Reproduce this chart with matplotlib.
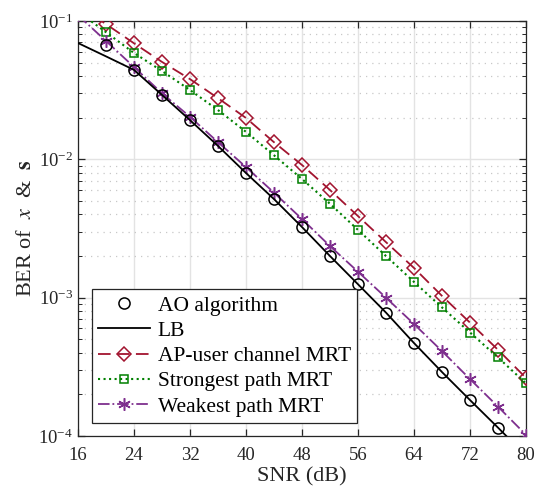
import matplotlib
matplotlib.use("Agg")
import matplotlib.pyplot as plt
from matplotlib.ticker import LogLocator, FixedLocator, NullFormatter

plt.rcParams['font.family'] = ['Liberation Serif', 'DejaVu Serif']
plt.rcParams['mathtext.fontset'] = 'stix'

# SNR grid (dB) and BER curves
snr = [16, 20, 24, 28, 32, 36, 40, 44, 48, 52, 56, 60, 64, 68, 72, 76, 80]
ber_ao = [None, 0.067, 0.0443, 0.0292, 0.0192, 0.0125, 0.00796, 0.00516, 0.00324,
          0.00200, 0.00125, 0.00078, 0.00047, 0.00029, 0.000182, 0.000115, 7.2e-5]
ber_lb = [0.0693, 0.0555, 0.0443, 0.0292, 0.0192, 0.0125, 0.00796, 0.00516, 0.00324,
          0.00200, 0.00125, 0.00078, 0.00047, 0.00029, 0.000182, 0.000115, 7.2e-5]
ber_ap = [0.13, 0.095, 0.069, 0.0506, 0.038, 0.0277, 0.0199, 0.0133, 0.0091,
          0.0060, 0.00389, 0.00252, 0.00164, 0.00103, 0.00066, 0.00042, 0.000263]
ber_strong = [0.117, 0.083, 0.0587, 0.0435, 0.0317, 0.0227, 0.0158, 0.0107, 0.00721,
              0.00477, 0.00309, 0.00200, 0.00130, 0.00085, 0.00056, 0.00037, 0.00024]
ber_weak = [0.11, 0.0717, 0.0465, 0.030, 0.0203, 0.0133, 0.00879, 0.00574, 0.0037,
            0.00236, 0.00154, 0.00100, 0.000645, 0.000411, 0.000258, 0.000163, 0.000102]

red = '#A2142F'
green = '#008000'
purple = '#7E2F8E'

fig = plt.figure(figsize=(5.36, 4.87), dpi=100)
ax = fig.add_axes([0.1455, 0.1047, 0.8358, 0.8522])

ao_x = [s for s, b in zip(snr, ber_ao) if b is not None]
ao_y = [b for b in ber_ao if b is not None]
ax.plot(ao_x, ao_y, 'o', color='black', mfc='none', ms=8, mew=1.1,
        label='AO algorithm', zorder=5)
ax.plot(snr, ber_lb, '-', color='black', lw=1.3, label='LB', zorder=4)
ax.plot(snr, ber_ap, '--', color=red, marker='D', mfc='none', ms=7.5, mew=1.1,
        lw=1.3, dashes=(7, 3.5), label='AP-user channel MRT', zorder=3)
ax.plot(snr, ber_strong, ':', color=green, marker='s', mfc='none', ms=6, mew=1.1,
        lw=1.5, label='Strongest path MRT', zorder=3)
ax.plot(snr, ber_weak, '-.', color=purple, marker=(6, 2, 0), ms=9, mew=1.1,
        lw=1.3, label='Weakest path MRT', zorder=3)

ax.set_yscale('log')
ax.set_xlim(16, 80)
ax.set_ylim(1e-4, 1e-1)
ax.xaxis.set_major_locator(FixedLocator(list(range(16, 81, 8))))
ax.yaxis.set_major_locator(LogLocator(base=10, numticks=10))
ax.yaxis.set_minor_locator(LogLocator(base=10, subs=range(2, 10), numticks=20))
ax.yaxis.set_minor_formatter(NullFormatter())

ax.grid(True, which='major', color='#e3e3e3', lw=1.0, ls='-')
ax.grid(True, which='minor', axis='y', color='#c8c8c8', lw=0.9, ls=(0, (1, 4)))
ax.set_axisbelow(True)

ax.tick_params(which='both', direction='in', top=True, right=True,
               colors='#262626', labelcolor='#262626', labelsize=13.5)
ax.tick_params(which='major', length=5, width=0.9)
ax.tick_params(which='minor', length=3, width=0.7)
ax.tick_params(axis='x', pad=8)
for sp in ax.spines.values():
    sp.set_color('#262626')
    sp.set_linewidth(0.9)

ax.set_xlabel('SNR (dB)', fontsize=16, color='#262626', labelpad=2)
ax.set_ylabel(r'BER of  $x$  &  $\mathbf{s}$', fontsize=16, color='#262626', labelpad=2)

leg = ax.legend(loc='lower left', bbox_to_anchor=(0.031, 0.031), fontsize=15.5,
                frameon=True, fancybox=False, framealpha=1, edgecolor='#262626',
                borderpad=0.3, labelspacing=0.24, handlelength=2.4,
                handletextpad=0.35, borderaxespad=0)
leg.get_frame().set_linewidth(0.9)

fig.savefig('out.png', dpi=100)
